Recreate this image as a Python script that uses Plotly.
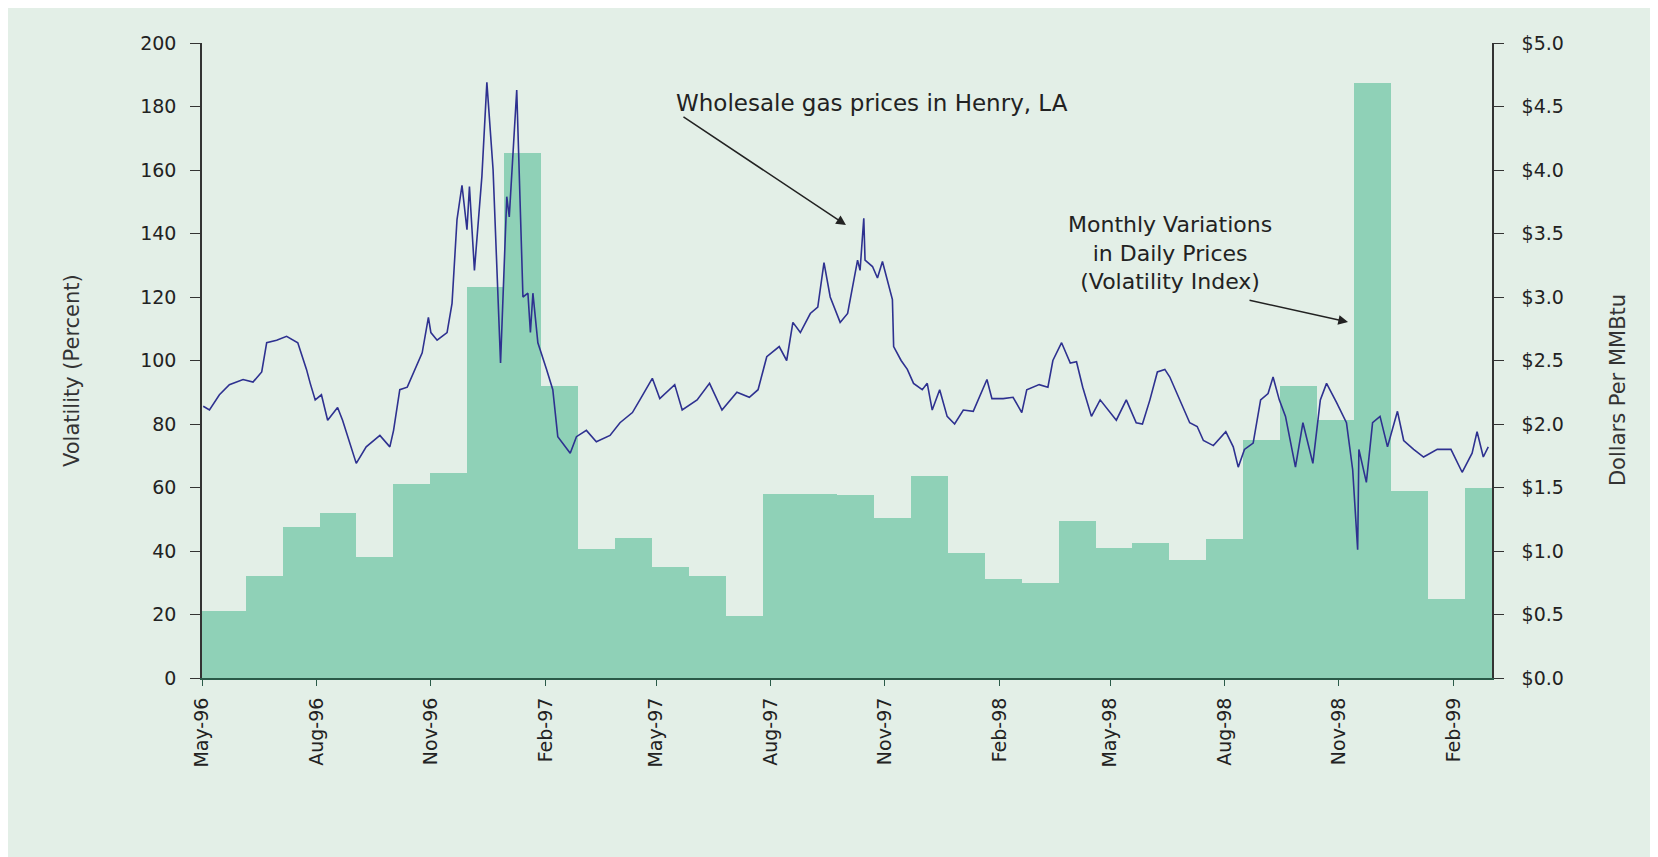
import plotly.graph_objects as go


# monthly volatility index (percent), May-96 .. Mar-99
vol_months = [
    "May-96", "Jun-96", "Jul-96", "Aug-96", "Sep-96", "Oct-96", "Nov-96", "Dec-96",
    "Jan-97", "Feb-97", "Mar-97", "Apr-97", "May-97", "Jun-97", "Jul-97", "Aug-97",
    "Sep-97", "Oct-97", "Nov-97", "Dec-97", "Jan-98", "Feb-98", "Mar-98", "Apr-98",
    "May-98", "Jun-98", "Jul-98", "Aug-98", "Sep-98", "Oct-98", "Nov-98", "Dec-98",
    "Jan-99", "Feb-99", "Mar-99",
]

volatility = [
    21, 32, 47.5, 52, 38, 61, 64.5, 123,
    165.5, 92, 40.5, 44, 35, 32, 19.5, 58,
    57.8, 57.5, 50.3, 63.6, 39.3, 31.1, 29.8, 49.4,
    40.8, 42.4, 37.2, 43.8, 75, 92, 81.3, 187.5,
    59, 24.9, 59.8,
]

# wholesale gas price at Henry, LA ($ per MMBtu)
price_dates = [
    "1996-05-02", "1996-05-07", "1996-05-15", "1996-05-23", "1996-06-03", "1996-06-11",
    "1996-06-18", "1996-06-22", "1996-06-30", "1996-07-08", "1996-07-17", "1996-07-24",
    "1996-07-27", "1996-07-31", "1996-08-05", "1996-08-10", "1996-08-18", "1996-08-22",
    "1996-09-02", "1996-09-10", "1996-09-21", "1996-09-29", "1996-10-02", "1996-10-07",
    "1996-10-13", "1996-10-18", "1996-10-25", "1996-10-30", "1996-11-01", "1996-11-06",
    "1996-11-14", "1996-11-18", "1996-11-22", "1996-11-26", "1996-11-30", "1996-12-02",
    "1996-12-06", "1996-12-12", "1996-12-16", "1996-12-21", "1996-12-27", "1997-01-01",
    "1997-01-03", "1997-01-09", "1997-01-14", "1997-01-18", "1997-01-20", "1997-01-22",
    "1997-01-26", "1997-02-02", "1997-02-07", "1997-02-11", "1997-02-21", "1997-02-26",
    "1997-03-06", "1997-03-14", "1997-03-25", "1997-04-02", "1997-04-12", "1997-04-18",
    "1997-04-28", "1997-05-04", "1997-05-16", "1997-05-22", "1997-06-03", "1997-06-13",
    "1997-06-23", "1997-07-05", "1997-07-15", "1997-07-22", "1997-07-29", "1997-08-08",
    "1997-08-14", "1997-08-19", "1997-08-25", "1997-09-02", "1997-09-08", "1997-09-13",
    "1997-09-18", "1997-09-26", "1997-10-02", "1997-10-10", "1997-10-12", "1997-10-15",
    "1997-10-16", "1997-10-22", "1997-10-26", "1997-10-30", "1997-11-03", "1997-11-07",
    "1997-11-08", "1997-11-14", "1997-11-19", "1997-11-24", "1997-12-01", "1997-12-05",
    "1997-12-09", "1997-12-15", "1997-12-21", "1997-12-27", "1998-01-03", "1998-01-11",
    "1998-01-22", "1998-01-26", "1998-02-04", "1998-02-12", "1998-02-19", "1998-02-23",
    "1998-03-05", "1998-03-12", "1998-03-16", "1998-03-23", "1998-03-30", "1998-04-04",
    "1998-04-09", "1998-04-16", "1998-04-23", "1998-04-28", "1998-05-06", "1998-05-14",
    "1998-05-22", "1998-05-27", "1998-06-02", "1998-06-08", "1998-06-14", "1998-06-18",
    "1998-06-26", "1998-07-04", "1998-07-10", "1998-07-15", "1998-07-23", "1998-08-02",
    "1998-08-08", "1998-08-12", "1998-08-17", "1998-08-24", "1998-08-30", "1998-09-05",
    "1998-09-09", "1998-09-14", "1998-09-19", "1998-09-27", "1998-10-03", "1998-10-11",
    "1998-10-17", "1998-10-22", "1998-10-30", "1998-11-07", "1998-11-12", "1998-11-16",
    "1998-11-17", "1998-11-23", "1998-11-28", "1998-12-04", "1998-12-10", "1998-12-18",
    "1998-12-23", "1998-12-31", "1999-01-08", "1999-01-19", "1999-01-30", "1999-02-08",
    "1999-02-16", "1999-02-20", "1999-02-25", "1999-03-01",
]

henry_price = [
    2.14, 2.11, 2.23, 2.31, 2.35, 2.33,
    2.41, 2.64, 2.66, 2.69, 2.64, 2.43,
    2.32, 2.19, 2.23, 2.03, 2.13, 2.03,
    1.69, 1.82, 1.91, 1.82, 1.95, 2.27,
    2.29, 2.40, 2.56, 2.84, 2.72, 2.66,
    2.72, 2.95, 3.61, 3.88, 3.53, 3.87,
    3.21, 3.95, 4.69, 4.00, 2.48, 3.79,
    3.63, 4.63, 3.00, 3.03, 2.72, 3.03,
    2.64, 2.43, 2.27, 1.90, 1.77, 1.90,
    1.95, 1.86, 1.91, 2.01, 2.09, 2.19,
    2.36, 2.20, 2.31, 2.11, 2.19, 2.32,
    2.11, 2.25, 2.21, 2.27, 2.53, 2.61,
    2.50, 2.80, 2.72, 2.87, 2.92, 3.27,
    3.00, 2.80, 2.87, 3.29, 3.21, 3.62,
    3.29, 3.24, 3.15, 3.28, 3.13, 2.98,
    2.61, 2.50, 2.43, 2.32, 2.27, 2.32,
    2.11, 2.27, 2.06, 2.00, 2.11, 2.10,
    2.35, 2.20, 2.20, 2.21, 2.09, 2.27,
    2.31, 2.29, 2.50, 2.64, 2.48, 2.49,
    2.29, 2.06, 2.19, 2.13, 2.03, 2.19,
    2.01, 2.00, 2.19, 2.41, 2.43, 2.37,
    2.19, 2.01, 1.98, 1.87, 1.83, 1.94,
    1.82, 1.66, 1.80, 1.85, 2.19, 2.24,
    2.37, 2.19, 2.06, 1.66, 2.01, 1.69,
    2.19, 2.32, 2.17, 2.01, 1.64, 1.01,
    1.80, 1.54, 2.01, 2.06, 1.82, 2.10,
    1.87, 1.80, 1.74, 1.80, 1.80, 1.62,
    1.77, 1.94, 1.74, 1.82,
]

tick_dates = [
    "1996-05-01", "1996-08-01", "1996-11-01", "1997-02-01", "1997-05-01", "1997-08-01",
    "1997-11-01", "1998-02-01", "1998-05-01", "1998-08-01", "1998-11-01", "1999-02-01",
]
tick_labels = [
    "May-96", "Aug-96", "Nov-96", "Feb-97", "May-97", "Aug-97",
    "Nov-97", "Feb-98", "May-98", "Aug-98", "Nov-98", "Feb-99",
]


BG = "#e3efe7"
BAR = "#8fd1b7"
LINE = "#2e3190"
TXT = "#222222"
AXIS = "#333333"
FONT = "DejaVu Sans"


# first bar runs back to the axis edge
bar_width = [1.18] + [1] * (len(volatility) - 1)
bar_offset = [-0.68] + [-0.5] * (len(volatility) - 1)


fig = go.Figure()


fig.add_trace(
    go.Bar(
        x=list(range(len(volatility))),
        y=volatility,
        width=bar_width,
        offset=bar_offset,
        customdata=vol_months,
        marker=dict(color=BAR, line=dict(width=0)),
        name="Volatility Index",
        xaxis="x",
        yaxis="y"
    )
)


fig.add_trace(
    go.Scatter(
        x=price_dates,
        y=henry_price,
        mode="lines",
        line=dict(color=LINE, width=1.6),
        name="Henry, LA price",
        xaxis="x2",
        yaxis="y2"
    )
)


fig.update_layout(
    width=1658,
    height=857,
    margin=dict(l=194, r=174, t=35, b=187),
    paper_bgcolor=BG,
    plot_bgcolor=BG,
    bargap=0,
    showlegend=False,
    font=dict(family=FONT, size=19, color=TXT),

    xaxis=dict(
        range=[-0.68, 34.23],
        visible=False,
        showgrid=False,
        zeroline=False
    ),

    xaxis2=dict(
        overlaying="x",
        anchor="y",
        side="bottom",
        type="date",
        range=["1996-05-01", "1999-03-04"],
        tickmode="array",
        tickvals=tick_dates,
        ticktext=tick_labels,
        tickangle=-90,
        ticks="outside",
        ticklen=6,
        tickcolor="#2a5a48",
        showline=True,
        linecolor="#2a5a48",
        linewidth=2,
        showgrid=False,
        zeroline=False,
        ticklabelstandoff=4,
        tickfont=dict(size=19)
    ),

    yaxis=dict(
        range=[0, 200],
        dtick=20,
        ticks="outside",
        ticklen=10,
        tickcolor=AXIS,
        showline=True,
        linecolor=AXIS,
        linewidth=1.5,
        showgrid=False,
        zeroline=False,
        ticklabelstandoff=10
    ),

    yaxis2=dict(
        overlaying="y",
        anchor="x",
        side="right",
        range=[0, 5],
        dtick=0.5,
        tickprefix="$",
        tickformat=".1f",
        ticks="outside",
        ticklen=10,
        tickcolor=AXIS,
        showline=True,
        linecolor=AXIS,
        linewidth=1.5,
        showgrid=False,
        zeroline=False,
        ticklabelstandoff=14
    )
)


# axis titles
fig.add_annotation(
    xref="paper",
    yref="paper",
    x=-0.1008,
    y=0.485,
    text="Volatility (Percent)",
    textangle=-90,
    showarrow=False,
    font=dict(size=21, color=AXIS),
    xanchor="center",
    yanchor="middle"
)


fig.add_annotation(
    xref="paper",
    yref="paper",
    x=1.0977,
    y=0.4535,
    text="Dollars Per MMBtu",
    textangle=-90,
    showarrow=False,
    font=dict(size=21, color=AXIS),
    xanchor="center",
    yanchor="middle"
)


fig.add_annotation(
    xref="paper",
    yref="paper",
    x=0.519,
    y=0.906,
    text="Wholesale gas prices in Henry, LA",
    showarrow=False,
    font=dict(size=23, color=TXT),
    xanchor="center",
    yanchor="middle"
)


fig.add_annotation(
    xref="paper",
    yref="paper",
    x=0.4992,
    y=0.7134,
    ax=-164,
    ay=-109,
    text="",
    showarrow=True,
    arrowhead=2,
    arrowsize=1.3,
    arrowwidth=1.5,
    arrowcolor=TXT,
    standoff=0
)


fig.add_annotation(
    xref="paper",
    yref="paper",
    x=0.7504,
    y=0.669,
    text="Monthly Variations<br>in Daily Prices<br>(Volatility Index)",
    showarrow=False,
    align="center",
    font=dict(size=22, color=TXT),
    xanchor="center",
    yanchor="middle"
)


fig.add_annotation(
    xref="paper",
    yref="paper",
    x=0.8884,
    y=0.5606,
    ax=-100,
    ay=-22,
    text="",
    showarrow=True,
    arrowhead=2,
    arrowsize=1.3,
    arrowwidth=1.5,
    arrowcolor=TXT,
    standoff=0
)


fig.write_html("out.html")
